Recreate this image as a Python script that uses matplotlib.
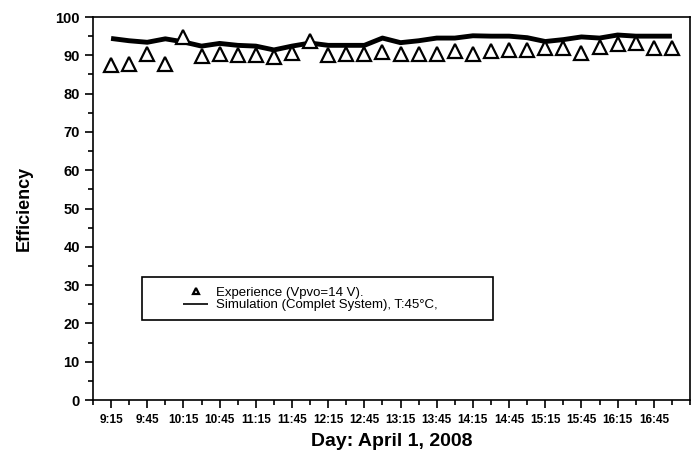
import matplotlib
matplotlib.use('Agg')
import matplotlib.pyplot as plt
from matplotlib.ticker import MultipleLocator
from matplotlib.patches import Rectangle

plt.rcParams['font.family'] = ['Liberation Sans', 'DejaVu Sans']

# measurement times, every 15 min
times = ['9:15', '9:30', '9:45', '10:00', '10:15', '10:30', '10:45', '11:00',
         '11:15', '11:30', '11:45', '12:00', '12:15', '12:30', '12:45', '13:00',
         '13:15', '13:30', '13:45', '14:00', '14:15', '14:30', '14:45', '15:00',
         '15:15', '15:30', '15:45', '16:00', '16:15', '16:30', '16:45', '17:00']

experience = [87.4, 87.8, 90.3, 87.7, 94.9, 89.8, 90.3, 90.2,
              90.2, 89.6, 90.5, 93.7, 90.0, 90.3, 90.4, 90.8,
              90.3, 90.3, 90.3, 91.0, 90.3, 91.0, 91.5, 91.5,
              92.0, 91.8, 90.7, 92.1, 93.0, 93.2, 91.9, 91.9]

simulation = [94.4, 93.8, 93.4, 94.3, 93.5, 92.4, 93.1, 92.6,
              92.4, 91.4, 92.4, 93.2, 92.6, 92.6, 92.6, 94.5,
              93.3, 93.8, 94.5, 94.5, 95.1, 95.0, 95.0, 94.6,
              93.6, 94.1, 94.8, 94.5, 95.3, 95.0, 95.0, 95.0]

tick_labels = ['9:15', '9:45', '10:15', '10:45', '11:15', '11:45', '12:15', '12:45',
               '13:15', '13:45', '14:15', '14:45', '15:15', '15:45', '16:15', '16:45']


def to_hours(s):
    h, m = s.split(':')
    return int(h) + int(m) / 60.0


x = [to_hours(t) for t in times]
xt = [to_hours(t) for t in tick_labels]

fig = plt.figure(figsize=(6.96, 4.57), dpi=100)
ax = fig.add_axes([0.1336, 0.1247, 0.8578, 0.8381])

ax.plot(x, simulation, color='black', linewidth=3.5, solid_capstyle='butt',
        label='Simulation (Complet System), T:45\u00b0C,', zorder=2)
ax.plot(x, experience, linestyle='none', marker='^', markersize=10,
        markerfacecolor='white', markeredgecolor='black', markeredgewidth=1.6,
        label='Experience (Vpvo=14 V).', zorder=3)

ax.set_xlim(9.0, 17.25)
ax.set_ylim(0, 100)
ax.set_xticks(xt)
ax.set_xticklabels(tick_labels, fontsize=8.5, fontweight='bold')
ax.xaxis.set_minor_locator(MultipleLocator(0.25))
ax.yaxis.set_major_locator(MultipleLocator(10))
ax.yaxis.set_minor_locator(MultipleLocator(5))
for lab in ax.get_yticklabels():
    lab.set_fontsize(10.5)
    lab.set_fontweight('bold')
ax.tick_params(which='major', direction='out', length=6, width=1.2)
ax.tick_params(which='minor', direction='out', length=3.5, width=1.2)
ax.tick_params(axis='x', pad=4)
for sp in ax.spines.values():
    sp.set_linewidth(1.2)

ax.set_xlabel('Day: April 1, 2008', fontsize=14, fontweight='bold', labelpad=5)
ax.set_ylabel('Efficiency', fontsize=13, fontweight='bold', labelpad=16)

# legend box
ax.add_patch(Rectangle((0.082, 0.209), 0.588, 0.112, transform=ax.transAxes,
                       facecolor='white', edgecolor='black', linewidth=1.2, zorder=4))
handles, labels = ax.get_legend_handles_labels()
leg = ax.legend(handles[::-1], labels[::-1], loc='center left',
                bbox_to_anchor=(0.1508, 0.264), frameon=False,
                fontsize=9.5, handlelength=1.9, handletextpad=0.6,
                borderpad=0, borderaxespad=0, labelspacing=0.0, markerscale=0.5)
leg.set_zorder(5)
for h in leg.legend_handles:
    h.set_linewidth(1.2)

fig.savefig('out.png', dpi=100)
